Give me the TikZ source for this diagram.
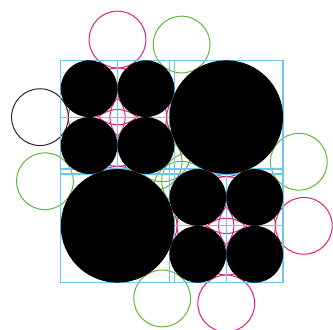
\documentclass[tikz,border=0pt]{standalone}
\definecolor{gridblue}{RGB}{105,200,240}
\definecolor{ringpink}{RGB}{228,30,130}
\definecolor{ringgreen}{RGB}{100,180,60}
\definecolor{ringdark}{RGB}{40,40,40}
\begin{document}
\begin{tikzpicture}[x=8.52mm,y=8.52mm,
  gridsq/.style={draw=gridblue,line width=1.05pt},
  pinkring/.style={draw=ringpink,line width=0.85pt},
  greenring/.style={draw=ringgreen,line width=0.85pt},
  darkring/.style={draw=ringdark,line width=0.85pt},
  disc/.style={fill=black}]
\useasboundingbox (-6.053,-5.581) rectangle (5.673,6.039);
% outline rings (radius 1)
\foreach \p in {(-1.91421,4.64626),(-1.91421,1.18216),(-1.91421,-0.81784),(-1.91421,2.64626),
  (-1.18216,1.91421),(0.81784,1.91421),(-2.64626,1.91421),
  (1.91421,-4.64626),(1.91421,-1.18216),(1.91421,0.81784),(1.91421,-2.64626),
  (4.64626,-1.91421),(1.18216,-1.91421),(-0.81784,-1.91421),(2.64626,-1.91421)}
  \draw[pinkring] \p circle (1);
\foreach \p in {(0.34287,4.46977),(4.46977,0.34287),(-0.34287,-4.46977),(-4.46977,-0.34287),
  (0.34287,-0.64135),(-0.64135,0.34287),(-0.34287,0.64135),(0.64135,-0.34287)}
  \draw[greenring] \p circle (1);
\draw[darkring] (-4.64626,1.91421) circle (1);
% bounding squares of the discs
\foreach \x/\y in {-2.91421/2.91421,-0.91421/2.91421,-2.91421/0.91421,-0.91421/0.91421,
  0.91421/-0.91421,2.91421/-0.91421,0.91421/-2.91421,2.91421/-2.91421}
  \draw[gridsq] (\x-1,\y-1) rectangle (\x+1,\y+1);
\draw[gridsq] (-0.08579,-0.08579) rectangle (3.91421,3.91421);
\draw[gridsq] (-3.91421,-3.91421) rectangle (0.08579,0.08579);
% black discs
\foreach \x/\y in {-2.91421/2.91421,-0.91421/2.91421,-2.91421/0.91421,-0.91421/0.91421,
  0.91421/-0.91421,2.91421/-0.91421,0.91421/-2.91421,2.91421/-2.91421}
  \fill[disc] (\x,\y) circle (1);
\fill[disc] (1.91421,1.91421) circle (2);
\fill[disc] (-1.91421,-1.91421) circle (2);
\end{tikzpicture}
\end{document}
